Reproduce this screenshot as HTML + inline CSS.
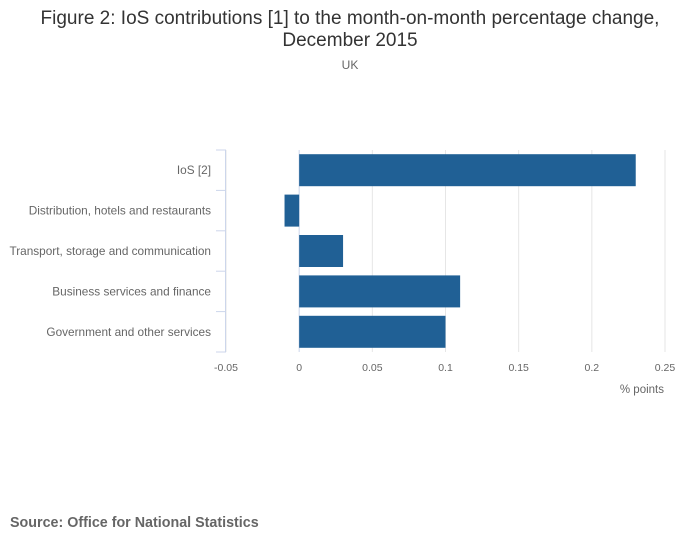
<!DOCTYPE html>
<html><head><meta charset="utf-8"><style>
body{margin:0;background:#fff;font-family:"Liberation Sans",sans-serif;}
</style></head><body>
<svg width="700" height="549" xmlns="http://www.w3.org/2000/svg" font-family="Liberation Sans, sans-serif">
<text x="350" y="24" text-anchor="middle" font-size="19" fill="#333">Figure 2: IoS contributions [1] to the month-on-month percentage change,</text>
<text x="350" y="46" text-anchor="middle" font-size="19" fill="#333">December 2015</text>
<text x="350" y="69" text-anchor="middle" font-size="12" fill="#666">UK</text>
<g id="plot"></g>
<text x="664" y="393" text-anchor="end" font-size="11.5" fill="#666">% points</text>
<text x="10" y="527" font-size="14.3" font-weight="bold" fill="#666">Source: Office for National Statistics</text>
</svg>
<script>
const categories=["IoS [2]","Distribution, hotels and restaurants","Transport, storage and communication","Business services and finance","Government and other services"];
const values=[0.23,-0.01,0.03,0.11,0.1];
const ticks=[-0.05,0,0.05,0.1,0.15,0.2,0.25];
const tickLabels=["-0.05","0","0.05","0.1","0.15","0.2","0.25"];
const NS="http://www.w3.org/2000/svg";
const g=document.getElementById('plot');
const x0=226,x1=665,yTop=150,yBot=352,dmin=-0.05,dmax=0.25;
const xs=v=>x0+(v-dmin)/(dmax-dmin)*(x1-x0);
const rowH=(yBot-yTop)/categories.length;
function mk(t,a){const e=document.createElementNS(NS,t);for(const k in a)e.setAttribute(k,a[k]);g.appendChild(e);return e;}
ticks.forEach((t,i)=>{
 const l=mk('line',{x1:xs(t),x2:xs(t),y1:yTop,y2:yBot,stroke:t===0?'#ccd6eb':'#e6e6e6','stroke-width':1});
 
 
 const tx=mk('text',{x:xs(t),y:371,'text-anchor':'middle','font-size':10.5,fill:'#666'});
 tx.textContent=tickLabels[i];
 
 
});
const ax=mk('line',{x1:x0-0.5,x2:x0-0.5,y1:yTop,y2:yBot,stroke:'#ccd6eb','stroke-width':1});


for(let i=0;i<=categories.length;i++){
 const y=yTop+i*rowH;
 const tk=mk('line',{x1:x0-10,x2:x0,y1:y,y2:y,stroke:'#ccd6eb','stroke-width':1});
 
 
}
categories.forEach((c,i)=>{
 const yc=yTop+(i+0.5)*rowH;
 const tx=mk('text',{x:211,y:yc+4,'text-anchor':'end','font-size':11.8,fill:'#666'});
 tx.textContent=c;
 
 
 const v=values[i];
 const a=xs(Math.min(0,v)),b=xs(Math.max(0,v));
 const r=mk('rect',{x:a,y:yc-16,width:b-a,height:32,fill:'#206095'});
 
 
});
</script>
</body></html>
